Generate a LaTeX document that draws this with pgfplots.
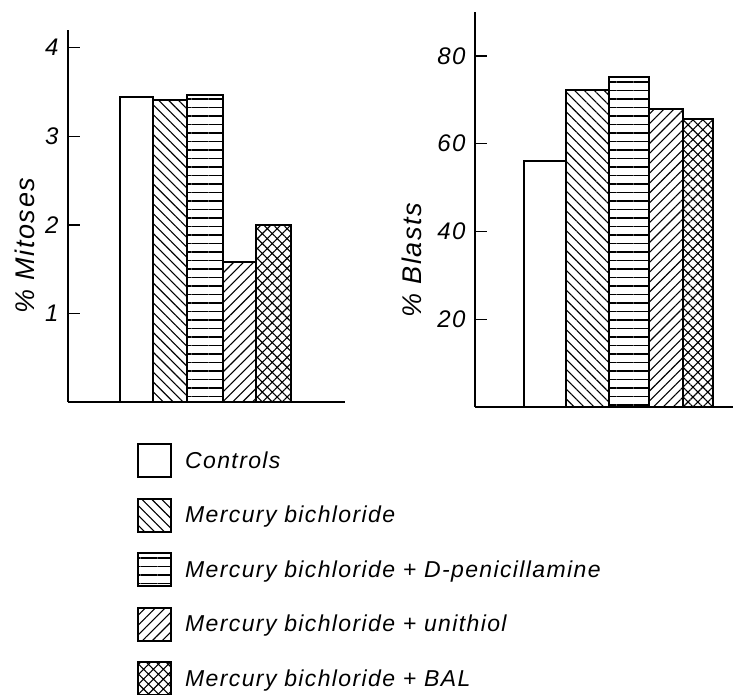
\documentclass[border=0pt]{standalone}
\usepackage{pgfplots}
\pgfplotsset{compat=1.18}
\usetikzlibrary{patterns.meta}
\usepackage{fontspec}
\newfontfamily\gost{Liberation Sans}[LetterSpace=6]
\pgfplotsset{
  boxlegend/.style={legend image code/.code={\draw[##1] (0pt,-16.5pt) rectangle (33pt,16.5pt);}},
  mybar/.style={ybar, bar shift=0pt, draw=black, line width=2pt, boxlegend},
  myaxis/.style={
    scale only axis, axis lines=left, axis line style={-, line width=1.4pt},
    xtick=\empty, tick align=inside, ytick pos=left, major tick length=12pt,
    every tick/.style={line width=1.4pt, black},
    /pgf/number format/assume math mode=true,
    ticklabel style={font=\gost\itshape\fontsize{24}{24}\selectfont, xshift=-6pt},
    ylabel style={font=\gost\itshape\fontsize{27}{27}\selectfont, anchor=center},
  },
}
\begin{document}
\begin{tikzpicture}
\path[use as bounding box] (0,0) rectangle (733pt,694pt);
\begin{axis}[myaxis, at={(68pt,292pt)}, anchor=south west,
  width=277pt, height=372pt, xmin=0, xmax=277, ymin=0, ymax=4.2,
  ytick={1,2,3,4},
  ylabel={\%\ Mitoses},
  ylabel style={at={(axis description cs:-0.155,0.42)}},
  legend cell align=left,
  legend style={at={(axis description cs:0.249,-0.110)}, anchor=north west,
    draw=none, fill=none, inner sep=0pt, row sep=19.5pt,
    nodes={inner sep=0pt},
    font=\gost\itshape\fontsize{23}{23}\selectfont,
    /tikz/every odd column/.append style={column sep=13pt}},
]
\addplot[mybar, bar width=33, fill=white] coordinates {(68.5,3.44)};
\addlegendentry{Controls}
\addplot[mybar, bar width=34, pattern={Lines[angle=-45,distance=7pt,line width=1.1pt]}] coordinates {(102,3.41)};
\addlegendentry{Mercury bichloride}
\addplot[mybar, bar width=36, pattern={Lines[angle=0,distance=8.5pt,line width=1.1pt]}] coordinates {(137,3.47)};
\addlegendentry{Mercury bichloride + D-penicillamine}
\addplot[mybar, bar width=33, pattern={Lines[angle=45,distance=7pt,line width=1.1pt]}] coordinates {(171.5,1.58)};
\addlegendentry{Mercury bichloride + unithiol}
\addplot[mybar, bar width=35, pattern={Hatch[angle=45,distance=7pt,line width=1.1pt]}] coordinates {(205.5,2.0)};
\addlegendentry{Mercury bichloride + BAL}
\end{axis}
\begin{axis}[myaxis, at={(475pt,287pt)}, anchor=south west,
  width=258pt, height=395pt, xmin=0, xmax=258, ymin=0, ymax=90,
  ytick={20,40,60,80},
  ylabel={\%\ Blasts},
  ylabel style={at={(axis description cs:-0.244,0.372)}},
]
\addplot[mybar, bar width=42, fill=white] coordinates {(70,56)};
\addplot[mybar, bar width=43, pattern={Lines[angle=-45,distance=7pt,line width=1.1pt]}] coordinates {(112.5,72.2)};
\addplot[mybar, bar width=40, pattern={Lines[angle=0,distance=8.5pt,line width=1.1pt]}] coordinates {(154,75.2)};
\addplot[mybar, bar width=34, pattern={Lines[angle=45,distance=7pt,line width=1.1pt]}] coordinates {(191,68)};
\addplot[mybar, bar width=30, pattern={Hatch[angle=45,distance=7pt,line width=1.1pt]}] coordinates {(223,65.7)};
\end{axis}
\end{tikzpicture}
\end{document}
